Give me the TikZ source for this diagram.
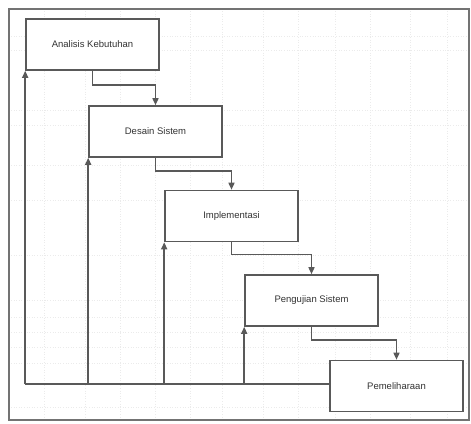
\documentclass[tikz,border=0pt]{standalone}
\usepackage{fontspec}
\setmainfont{Liberation Sans}
\usetikzlibrary{arrows.meta}
\begin{document}
\begin{tikzpicture}[x=1pt,y=-1pt,
  stagebox/.style={draw=black!65,line width=1.6pt,fill=white,minimum width=133pt,minimum height=51pt,inner sep=0pt,font=\fontsize{9.5}{11}\selectfont,text=black!80},
  flow/.style={draw=black!65,line width=1.5pt,-{Triangle[length=7pt,width=6pt]}},
  gridline/.style={draw=black!8,line width=0.6pt,dotted}]
\useasboundingbox (0,0) rectangle (471,423);
\fill[white] (0,0) rectangle (471,423);
% faint background grid
\foreach \gx in {44,85,120,155,190,222,263,298,335,370,410,447}
  \draw[gridline] (\gx,11) -- (\gx,418);
\foreach \gy in {36,50,110,125,165,200,255,300,317,332,347,363,407}
  \draw[gridline] (11,\gy) -- (467,\gy);
% frame
\draw[black!55,line width=1.2pt] (9,9) rectangle (469,420);
% stages
\node[stagebox] (a) at (92.5,44.5) {Analisis Kebutuhan};
\node[stagebox] (b) at (155.5,131.5) {Desain Sistem};
\node[stagebox] (c) at (231.5,216) {Implementasi};
\node[stagebox] (d) at (311.5,300.5) {Pengujian Sistem};
\node[stagebox] (e) at (396.5,386) {Pemeliharaan};
% forward flow
\draw[flow] (a.south) -- ++(0,14) -| (b.north);
\draw[flow] (b.south) -- ++(0,13) -| (c.north);
\draw[flow] (c.south) -- ++(0,12) -| (d.north);
\draw[flow] (d.south) -- ++(0,13) -| (e.north);
% feedback
\coordinate (base) at (0,384);
\coordinate (fa) at (a.south west |- base);
\draw[draw=black!65,line width=1.5pt] (e.west |- base) -- (fa);
\draw[flow] (fa) -- (a.south west);
\draw[flow] (b.south west |- base) -- (b.south west);
\draw[flow] (c.south west |- base) -- (c.south west);
\draw[flow] (d.south west |- base) -- (d.south west);
\end{tikzpicture}
\end{document}
